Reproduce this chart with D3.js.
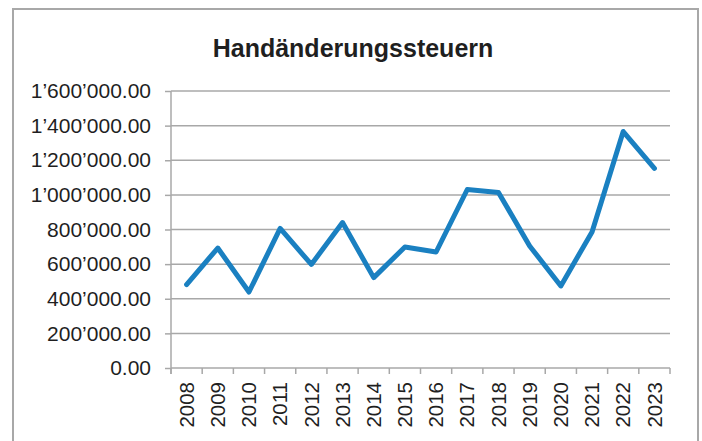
<!DOCTYPE html>
<html>
<head>
  <meta charset="utf-8">
  <title>Handänderungssteuern</title>
<script src="https://cdnjs.cloudflare.com/ajax/libs/d3/7.6.1/d3.min.js"></script>
<style>
  body { margin: 0; background: #fff; }
  text { font-family: "Liberation Sans", Arial, sans-serif; fill: #1f1f1f; }
</style>
</head>
<body>
<svg id="chart" width="702" height="441"></svg>
<script>

let years  = ['2008','2009','2010','2011','2012','2013','2014','2015',
              '2016','2017','2018','2019','2020','2021','2022','2023'];
let steuern = [482000, 693000, 439000, 806000, 598000, 840000, 522000, 699000,
               670000, 1031000, 1014000, 705000, 474000, 786000, 1366000, 1153000];
let yTicks = [0, 200000, 400000, 600000, 800000, 1000000, 1200000, 1400000, 1600000];

let chTitle = 'Handänderungssteuern';

let svg = d3.select('#chart');

let plotLeft = 171, plotRight = 670, plotTop = 91, plotBottom = 368;

let x = d3.scaleBand()
          .domain(years)
          .range([plotLeft, plotRight]);

let y = d3.scaleLinear()
          .domain([0, 1600000])
          .range([plotBottom, plotTop]);

let fmt = d3.formatLocale({decimal: '.', thousands: '\u2019', grouping: [3], currency: ['', '']})
            .format(',.2f');

// outer frame
svg.append('rect')
   .attr('x', 13).attr('y', 9)
   .attr('width', 685).attr('height', 450)
   .attr('fill', 'none')
   .attr('stroke', '#a8a8a8')
   .attr('stroke-width', 2);

// title
svg.append('text')
   .attr('x', 353).attr('y', 57)
   .attr('text-anchor', 'middle')
   .attr('font-size', 25)
   .attr('font-weight', 'bold')
   .text(chTitle);

// gridlines
svg.append('g')
   .selectAll('line')
   .data(yTicks.slice(1))
   .enter()
   .append('line')
   .attr('x1', plotLeft).attr('x2', plotRight)
   .attr('y1', d => y(d)).attr('y2', d => y(d))
   .attr('stroke', '#a8a8a8')
   .attr('stroke-width', 1.5);

// y axis
let yAxis = svg.append('g')
   .attr('transform', `translate(${plotLeft},0)`)
   .call(d3.axisLeft(y).tickValues(yTicks).tickFormat(fmt).tickSize(6).tickPadding(14));
yAxis.select('.domain').attr('stroke', '#a8a8a8').attr('stroke-width', 1.5)
     .attr('d', `M0,${plotTop}V${plotBottom + 6}`);
yAxis.selectAll('.tick line').attr('stroke', '#a8a8a8').attr('stroke-width', 1.5);
yAxis.selectAll('text').attr('font-size', 21).attr('fill', '#1f1f1f')
     .attr('font-family', '"Liberation Sans", Arial, sans-serif');

// x axis
let xAxis = svg.append('g')
   .attr('transform', `translate(0,${plotBottom})`)
   .call(d3.axisBottom(x).tickSize(0).tickPadding(0));
xAxis.select('.domain').attr('stroke', '#a8a8a8').attr('stroke-width', 1.5)
     .attr('d', `M${plotLeft},0H${plotRight}`);
xAxis.selectAll('text')
     .attr('font-size', 20.5).attr('fill', '#1f1f1f')
     .attr('font-family', '"Liberation Sans", Arial, sans-serif')
     .attr('transform', 'rotate(-90)')
     .attr('text-anchor', 'end')
     .attr('x', -14).attr('y', 0).attr('dy', '0.35em');

// x boundary ticks
svg.append('g')
   .selectAll('line')
   .data(years.concat(['end']))
   .enter()
   .append('line')
   .attr('x1', d => d === 'end' ? plotRight : x(d))
   .attr('x2', d => d === 'end' ? plotRight : x(d))
   .attr('y1', plotBottom).attr('y2', plotBottom + 6)
   .attr('stroke', '#a8a8a8')
   .attr('stroke-width', 1.5);

// line
let line = d3.line()
   .x((d, i) => x(years[i]) + x.bandwidth() / 2)
   .y(d => y(d));

svg.append('path')
   .datum(steuern)
   .attr('d', line)
   .attr('fill', 'none')
   .attr('stroke', '#1a80c1')
   .attr('stroke-width', 5)
   .attr('stroke-linejoin', 'round')
   .attr('stroke-linecap', 'round');

</script>
</body>
</html>
